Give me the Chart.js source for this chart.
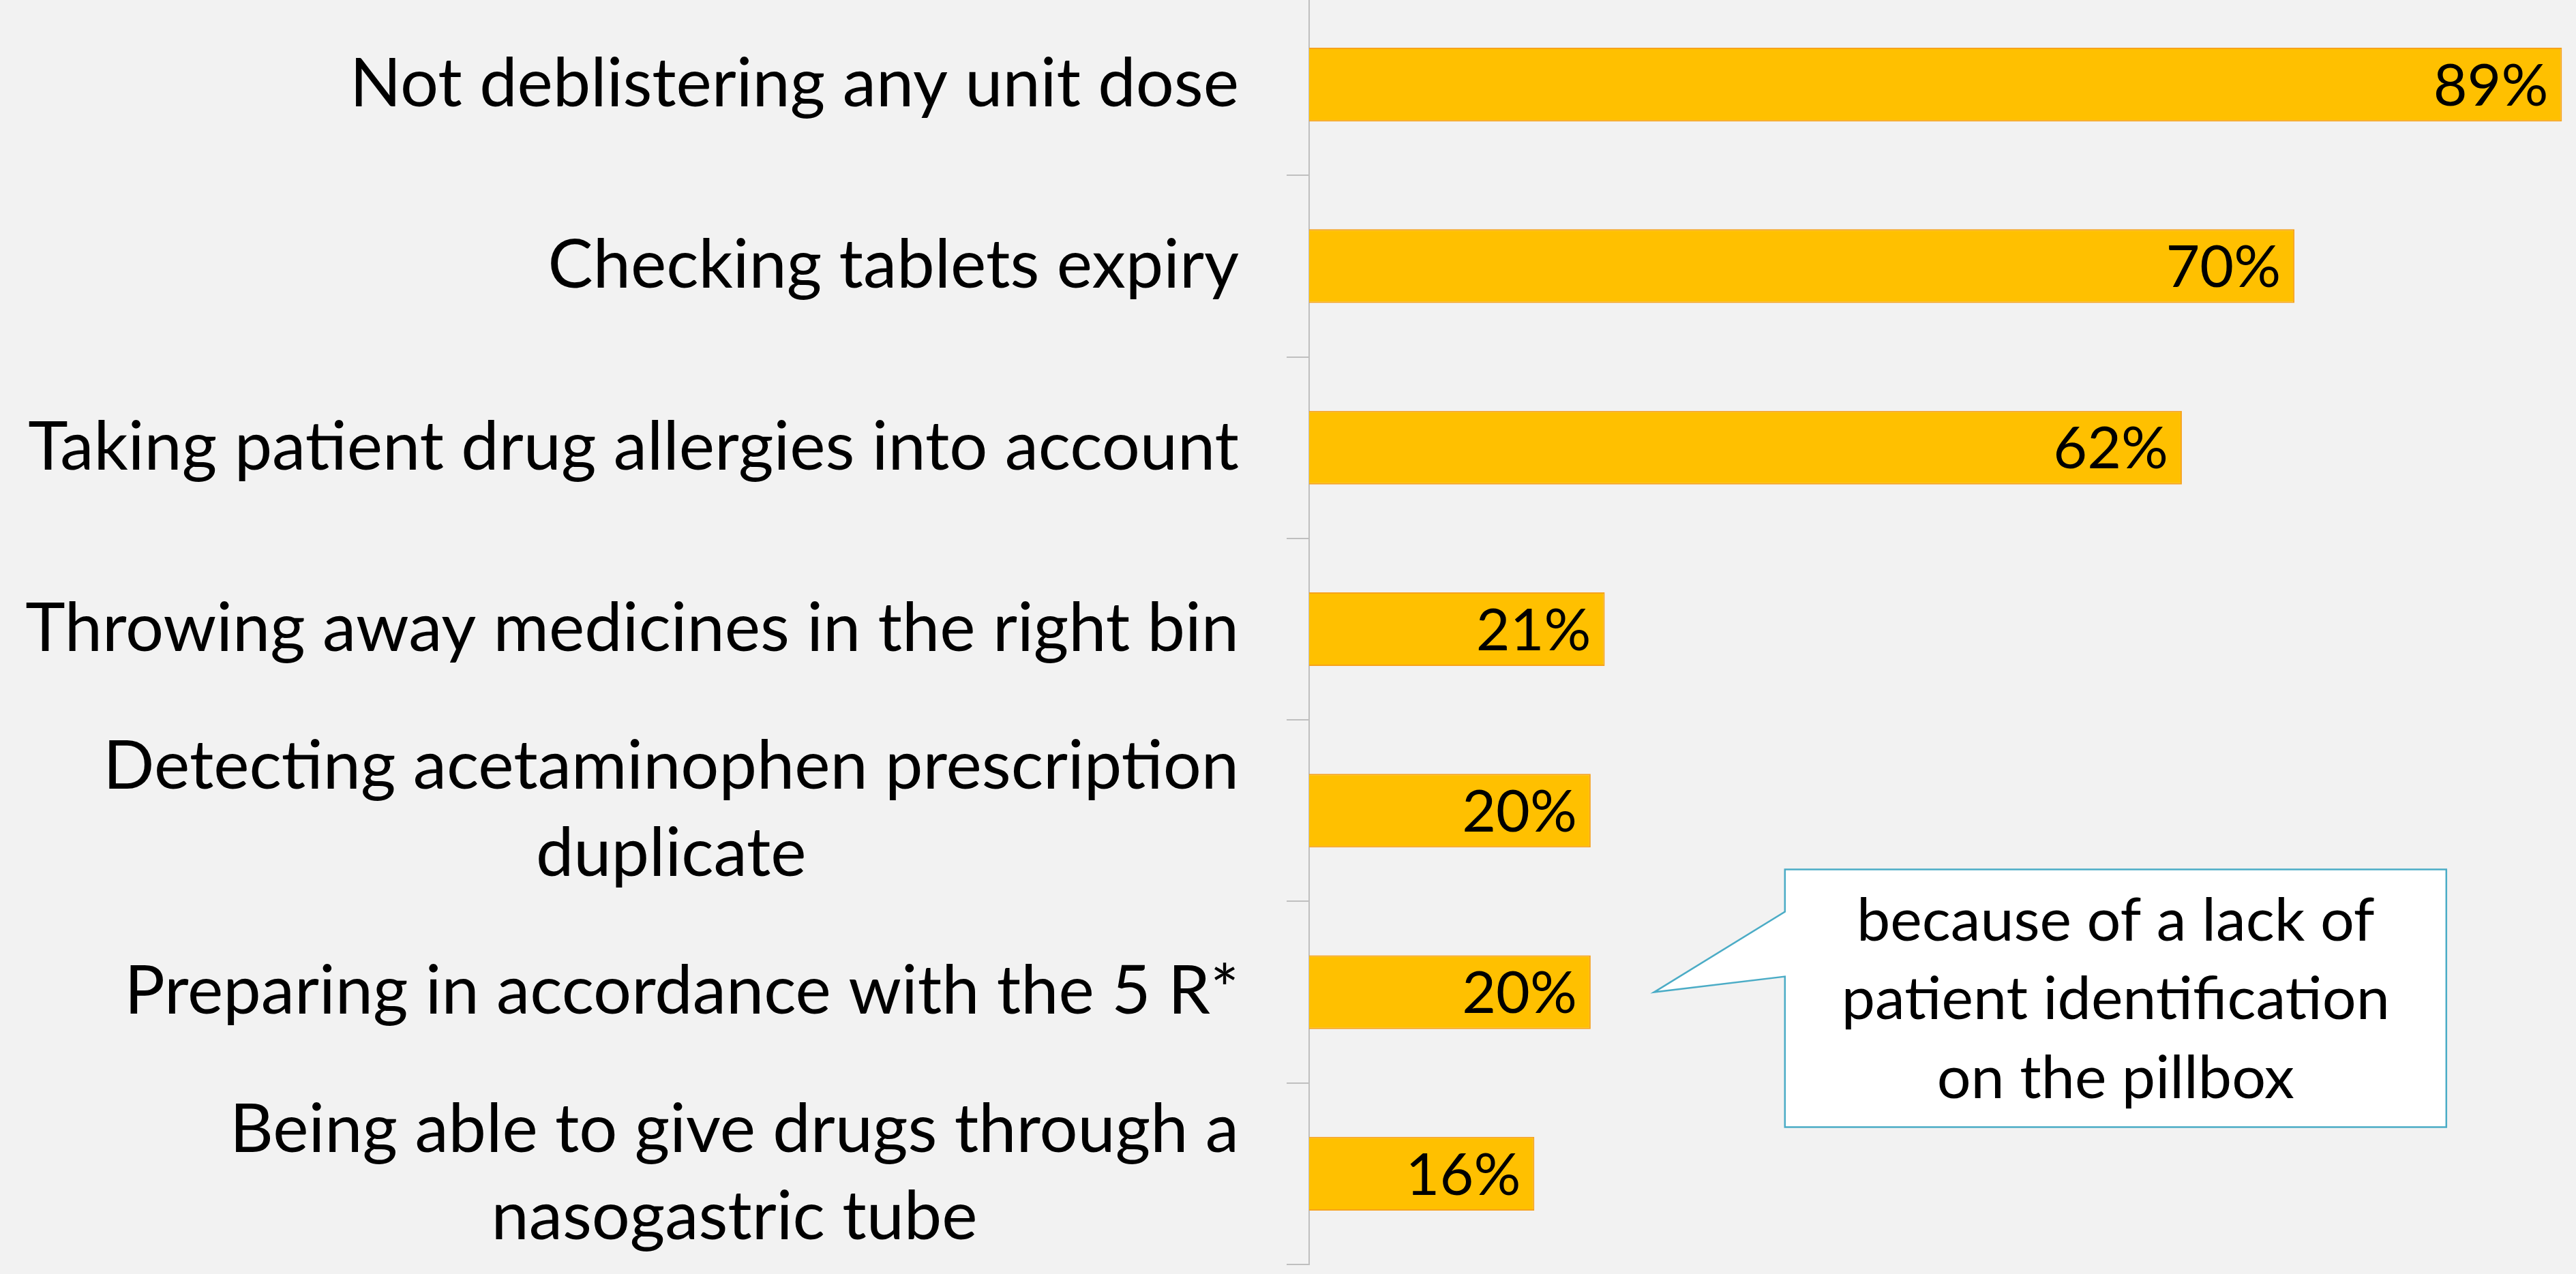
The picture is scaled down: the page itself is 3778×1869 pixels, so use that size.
<!DOCTYPE html>
<html>
<head>
<meta charset="utf-8">
<script src="https://cdn.jsdelivr.net/npm/chart.js@4/dist/chart.umd.min.js"></script>
<style>
  html, body { margin: 0; padding: 0; background: #F2F2F2; overflow: hidden; }
  canvas { display: block; margin-top: -9px; }
</style>
</head>
<body>
<canvas id="c" width="3778" height="1878"></canvas>
<script>
const categories = [
  ["Not deblistering any unit dose"],
  ["Checking tablets expiry"],
  ["Taking patient drug allergies into account"],
  ["Throwing away medicines in the right bin"],
  ["Detecting acetaminophen prescription", "duplicate"],
  ["Preparing in accordance with the 5 R*"],
  ["Being able to give drugs through a", "nasogastric tube"]
];
const values = [89, 70, 62, 21, 20, 20, 16];
const valueLabels = ["89%", "70%", "62%", "21%", "20%", "20%", "16%"];
const calloutLines = ["because of a lack of", "patient identification", "on the pillbox"];
const calloutCategory = 5;
const calloutValue = 24.5;

const FONT = "Lato, 'Open Sans', sans-serif";

const bgPlugin = {
  id: 'bg',
  beforeDraw(chart) {
    const ctx = chart.ctx;
    ctx.save();
    ctx.fillStyle = '#F2F2F2';
    ctx.fillRect(0, 0, chart.width, chart.height);
    ctx.restore();
  }
};

const labelPlugin = {
  id: 'labels',
  afterDraw(chart) {
    const ctx = chart.ctx;
    const yScale = chart.scales.y;
    const area = chart.chartArea;
    ctx.save();
    // category labels
    ctx.font = '99px ' + FONT;
    ctx.fillStyle = '#000';
    ctx.textBaseline = 'middle';
    ctx.textAlign = 'center';
    const lineH = 128;
    categories.forEach((lines, i) => {
      const y = yScale.getPixelForValue(i);
      const widths = lines.map(l => ctx.measureText(l).width);
      const maxW = Math.max(...widths);
      const right = area.left - 103;
      const cx = right - maxW / 2;
      const y0 = y - (lines.length - 1) * lineH / 2;
      lines.forEach((l, k) => ctx.fillText(l, cx, y0 + k * lineH));
    });
    // value labels
    const meta = chart.getDatasetMeta(0);
    ctx.textAlign = 'right';
    ctx.font = '86px ' + FONT;
    meta.data.forEach((bar, i) => {
      ctx.fillText(valueLabels[i], bar.x - 20, bar.y + 3);
    });
    // callout
    const xs = chart.scales.x;
    const tipX = xs.getPixelForValue(calloutValue);
    const tipY = yScale.getPixelForValue(calloutCategory);
    const L = tipX + 192, R = tipX + 1162, T = tipY - 180, B = tipY + 198;
    const p1 = tipY - 118, p2 = tipY - 23;
    ctx.beginPath();
    ctx.moveTo(L, T);
    ctx.lineTo(R, T);
    ctx.lineTo(R, B);
    ctx.lineTo(L, B);
    ctx.lineTo(L, p2);
    ctx.lineTo(tipX, tipY);
    ctx.lineTo(L, p1);
    ctx.closePath();
    ctx.fillStyle = '#FFFFFF';
    ctx.fill();
    ctx.strokeStyle = '#4BACC6';
    ctx.lineWidth = 2.5;
    ctx.stroke();
    ctx.fillStyle = '#000';
    ctx.textAlign = 'center';
    ctx.textBaseline = 'alphabetic';
    ctx.font = '88px ' + FONT;
    const cx = (L + R) / 2;
    calloutLines.forEach((l, k) => ctx.fillText(l, cx, tipY - 76 + k * 115.5));
    ctx.restore();
  }
};

new Chart(document.getElementById('c'), {
  type: 'bar',
  data: {
    labels: categories,
    datasets: [{
      data: values,
      backgroundColor: '#FFC000',
      borderColor: '#F7A21B',
      borderWidth: 2,
      categoryPercentage: 1,
      barPercentage: 0.406
    }]
  },
  options: {
    indexAxis: 'y',
    responsive: false,
    animation: false,
    devicePixelRatio: 1,
    layout: { padding: { top: 0, bottom: 14, left: 0, right: 0 } },
    plugins: { legend: { display: false }, tooltip: { enabled: false } },
    scales: {
      x: { display: false, min: 0, max: 90 },
      y: {
        type: 'category',
        position: 'left',
        afterFit(scale) { scale.width = 1920; },
        ticks: { display: false },
        grid: {
          offset: true,
          drawOnChartArea: false,
          drawTicks: true,
          tickLength: 33,
          color: '#BFBFBF',
          lineWidth: 2
        },
        border: { display: true, color: '#BFBFBF', width: 2 }
      }
    }
  },
  plugins: [bgPlugin, labelPlugin]
});
</script>
</body>
</html>
